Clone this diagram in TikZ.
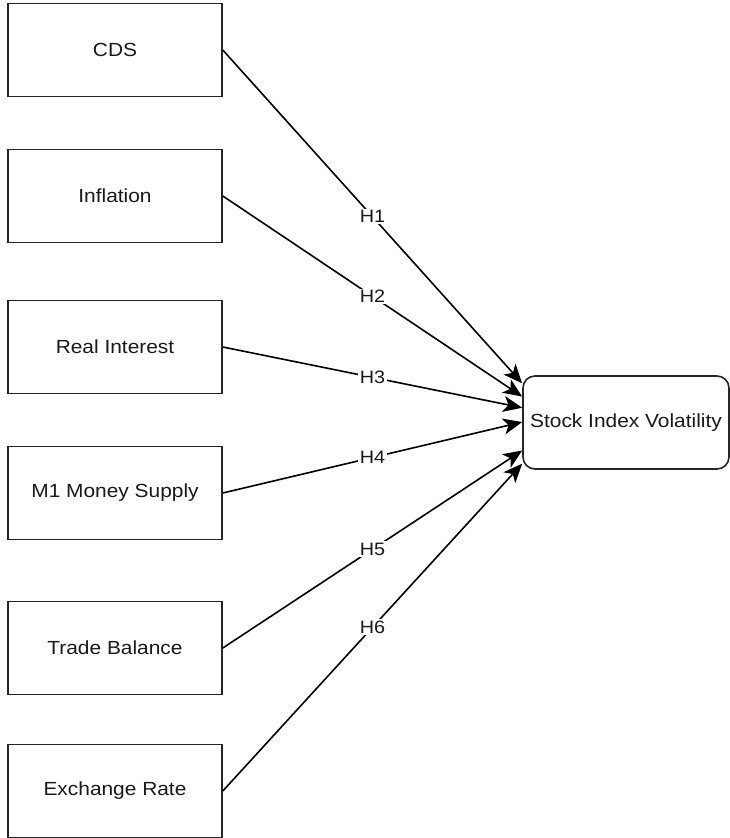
\documentclass[tikz,border=0pt]{standalone}
\usepackage{fontspec}
\setmainfont{Liberation Sans}[FakeStretch=1.1]
\usetikzlibrary{arrows.meta,calc}

\begin{document}
\begin{tikzpicture}[x=1pt,y=-1pt,
    box/.style={draw=black!85,line width=1.6pt,minimum width=214pt,minimum height=93pt,inner sep=0pt,text=black!90,font=\fontsize{19}{23}\selectfont},
    hlab/.style={fill=white,inner sep=1.5pt,text=black!90,font=\fontsize{18}{21}\selectfont}]
  \useasboundingbox (0,0) rectangle (730,838);
  \foreach \n/\y/\t in {%
    cds/50/CDS,
    inf/196/Inflation,
    rir/347/Real Interest,
    mon/493/M1 Money Supply,
    trb/648/Trade Balance,
    exr/791/Exchange Rate}{%
      \node[box] (\n) at (115,\y) {\t};
    }
  \node[box,rounded corners=12pt,minimum width=206pt] (vol) at (626,422.5) {Stock Index Volatility};
  \foreach \n/\f/\h in {cds/.086/H1,inf/.226/H2,rir/.344/H3,mon/.495/H4,trb/.796/H5,exr/.935/H6}{%
    \coordinate (e\h) at ($(vol.north west)!\f!(vol.south west)$);
    \draw[black,line width=1.6pt,-{Stealth[length=19pt,width=16pt,inset=5pt]}] (\n.east) -- node[hlab]{\h} (e\h);
  }
\end{tikzpicture}
\end{document}
